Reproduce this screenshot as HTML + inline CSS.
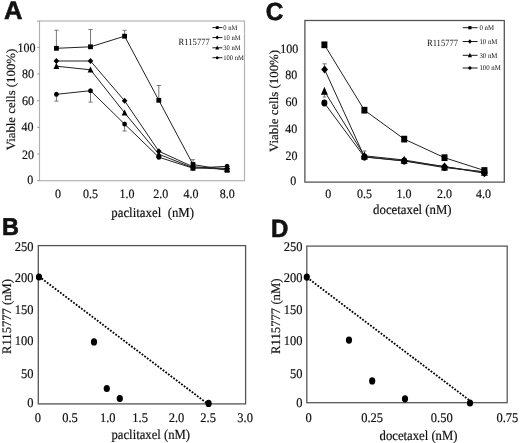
<!DOCTYPE html>
<html><head><meta charset="utf-8"><title>Figure</title><style>
html,body{margin:0;padding:0;background:#fff;}
svg{display:block;filter:grayscale(1);}
text{fill:#111;text-rendering:geometricPrecision;}
.sf{font-family:"Liberation Serif",serif;}
.sb{font-family:"Liberation Sans",sans-serif;font-weight:bold;}
</style></head><body>
<svg width="520" height="443" viewBox="0 0 520 443">
<rect width="520" height="443" fill="#fff"/>
<text class="sb" transform="translate(3.90,19.40)" font-size="25.5" stroke="#111" stroke-width="0.6">A</text>
<rect x="39.5" y="21" width="205" height="159.7" fill="none" stroke="#b0b0b0" stroke-width="1.15"/>
<line x1="37.2" y1="21.0" x2="39.5" y2="21.0" stroke="#999" stroke-width="1" />
<line x1="37.2" y1="47.4" x2="39.5" y2="47.4" stroke="#999" stroke-width="1" />
<line x1="37.2" y1="74.0" x2="39.5" y2="74.0" stroke="#999" stroke-width="1" />
<line x1="37.2" y1="100.8" x2="39.5" y2="100.8" stroke="#999" stroke-width="1" />
<line x1="37.2" y1="127.3" x2="39.5" y2="127.3" stroke="#999" stroke-width="1" />
<line x1="37.2" y1="154.0" x2="39.5" y2="154.0" stroke="#999" stroke-width="1" />
<line x1="37.2" y1="180.6" x2="39.5" y2="180.6" stroke="#999" stroke-width="1" />
<text class="sf" transform="translate(35.60,51.50) scale(1,1.06)" font-size="12" text-anchor="end" stroke="#111" stroke-width="0.18">100</text>
<text class="sf" transform="translate(34.00,77.70) scale(1,1.06)" font-size="12" text-anchor="end" stroke="#111" stroke-width="0.18">80</text>
<text class="sf" transform="translate(34.00,104.70) scale(1,1.06)" font-size="12" text-anchor="end" stroke="#111" stroke-width="0.18">60</text>
<text class="sf" transform="translate(33.60,131.40) scale(1,1.06)" font-size="12" text-anchor="end" stroke="#111" stroke-width="0.18">40</text>
<text class="sf" transform="translate(34.00,158.80) scale(1,1.06)" font-size="12" text-anchor="end" stroke="#111" stroke-width="0.18">20</text>
<text class="sf" transform="translate(33.20,184.10) scale(1,1.06)" font-size="12" text-anchor="end" stroke="#111" stroke-width="0.18">0</text>
<text class="sf" transform="translate(58.00,198.20) scale(1,1.06)" font-size="12" text-anchor="middle" stroke="#111" stroke-width="0.18">0</text>
<text class="sf" transform="translate(90.60,198.20) scale(1,1.06)" font-size="12" text-anchor="middle" stroke="#111" stroke-width="0.18">0.5</text>
<text class="sf" transform="translate(127.00,198.20) scale(1,1.06)" font-size="12" text-anchor="middle" stroke="#111" stroke-width="0.18">1.0</text>
<text class="sf" transform="translate(160.80,198.20) scale(1,1.06)" font-size="12" text-anchor="middle" stroke="#111" stroke-width="0.18">2.0</text>
<text class="sf" transform="translate(191.00,198.20) scale(1,1.06)" font-size="12" text-anchor="middle" stroke="#111" stroke-width="0.18">4.0</text>
<text class="sf" transform="translate(227.20,198.20) scale(1,1.06)" font-size="12" text-anchor="middle" stroke="#111" stroke-width="0.18">8.0</text>
<text class="sf" transform="translate(111.30,217.40) scale(1,1.06)" font-size="12.85" stroke="#111" stroke-width="0.18">paclitaxel&#160; (nM)</text>
<text class="sf" transform="translate(15.00,150.30) rotate(-90) scale(1,0.96)" font-size="13" textLength="101.5" lengthAdjust="spacingAndGlyphs" stroke="#111" stroke-width="0.18">Viable cells (100%)</text>
<text class="sf" transform="translate(178.60,44.60) scale(1,1.12)" font-size="8.6">R115777</text>
<line x1="212.4" y1="27.6" x2="222.4" y2="27.6" stroke="#000" stroke-width="0.9" />
<rect x="215.80" y="26.20" width="2.80" height="2.80" fill="#000"/>
<text class="sf" transform="translate(223.20,29.80) scale(1,1.06)" font-size="6.6">0 nM</text>
<line x1="212.4" y1="37.6" x2="222.4" y2="37.6" stroke="#000" stroke-width="0.9" />
<polygon points="217.20,35.60 219.00,37.60 217.20,39.60 215.40,37.60" fill="#000"/>
<text class="sf" transform="translate(223.20,39.80) scale(1,1.06)" font-size="6.6">10 nM</text>
<line x1="212.4" y1="47.8" x2="222.4" y2="47.8" stroke="#000" stroke-width="0.9" />
<polygon points="217.20,45.40 219.10,49.50 215.30,49.50" fill="#000"/>
<text class="sf" transform="translate(223.20,50.00) scale(1,1.06)" font-size="6.6">30 nM</text>
<line x1="212.4" y1="57.7" x2="222.4" y2="57.7" stroke="#000" stroke-width="0.9" />
<ellipse cx="217.20" cy="57.70" rx="1.40" ry="1.50" fill="#000"/>
<text class="sf" transform="translate(223.20,59.90) scale(1,1.06)" font-size="6.6">100 nM</text>
<line x1="56.4" y1="48.3" x2="56.4" y2="30.2" stroke="#777" stroke-width="1" />
<line x1="54.3" y1="30.2" x2="58.5" y2="30.2" stroke="#777" stroke-width="1" />
<line x1="90.5" y1="46.8" x2="90.5" y2="29.5" stroke="#777" stroke-width="1" />
<line x1="88.4" y1="29.5" x2="92.6" y2="29.5" stroke="#777" stroke-width="1" />
<line x1="124.6" y1="36.2" x2="124.6" y2="30.3" stroke="#777" stroke-width="1" />
<line x1="122.5" y1="30.3" x2="126.69999999999999" y2="30.3" stroke="#777" stroke-width="1" />
<line x1="158.8" y1="100.3" x2="158.8" y2="85.5" stroke="#777" stroke-width="1" />
<line x1="156.70000000000002" y1="85.5" x2="160.9" y2="85.5" stroke="#777" stroke-width="1" />
<line x1="193" y1="164.5" x2="193" y2="159.7" stroke="#777" stroke-width="1" />
<line x1="190.9" y1="159.7" x2="195.1" y2="159.7" stroke="#777" stroke-width="1" />
<line x1="56.4" y1="94.3" x2="56.4" y2="101.1" stroke="#777" stroke-width="1" />
<line x1="54.3" y1="101.1" x2="58.5" y2="101.1" stroke="#777" stroke-width="1" />
<line x1="90.5" y1="90.7" x2="90.5" y2="102.1" stroke="#777" stroke-width="1" />
<line x1="88.4" y1="102.1" x2="92.6" y2="102.1" stroke="#777" stroke-width="1" />
<line x1="124.6" y1="124.1" x2="124.6" y2="131.0" stroke="#777" stroke-width="1" />
<line x1="122.5" y1="131.0" x2="126.69999999999999" y2="131.0" stroke="#777" stroke-width="1" />
<polyline points="56.4,48.3 90.5,46.8 124.6,36.2 158.8,100.3 193,164.5 227.1,170.3" fill="none" stroke="#222" stroke-width="1"/>
<polyline points="56.4,61 90.5,61 124.6,100.8 158.8,151.2 193,166.8 227.1,168.5" fill="none" stroke="#222" stroke-width="1"/>
<polyline points="56.4,66.2 90.5,69.8 124.6,112.8 158.8,154.2 193,167.8 227.1,169.2" fill="none" stroke="#222" stroke-width="1"/>
<polyline points="56.4,94.3 90.5,90.7 124.6,124.1 158.8,157.2 193,168.2 227.1,166.3" fill="none" stroke="#222" stroke-width="1"/>
<rect x="54.00" y="45.90" width="4.80" height="4.80" fill="#000"/>
<rect x="88.10" y="44.40" width="4.80" height="4.80" fill="#000"/>
<rect x="122.20" y="33.80" width="4.80" height="4.80" fill="#000"/>
<rect x="156.40" y="97.90" width="4.80" height="4.80" fill="#000"/>
<rect x="190.60" y="162.10" width="4.80" height="4.80" fill="#000"/>
<rect x="224.70" y="167.90" width="4.80" height="4.80" fill="#000"/>
<polygon points="56.40,58.00 59.20,61.00 56.40,64.00 53.60,61.00" fill="#000"/>
<polygon points="90.50,58.00 93.30,61.00 90.50,64.00 87.70,61.00" fill="#000"/>
<polygon points="124.60,97.80 127.40,100.80 124.60,103.80 121.80,100.80" fill="#000"/>
<polygon points="158.80,148.20 161.60,151.20 158.80,154.20 156.00,151.20" fill="#000"/>
<polygon points="193.00,163.80 195.80,166.80 193.00,169.80 190.20,166.80" fill="#000"/>
<polygon points="227.10,165.50 229.90,168.50 227.10,171.50 224.30,168.50" fill="#000"/>
<polygon points="56.40,62.80 59.30,68.90 53.50,68.90" fill="#000"/>
<polygon points="90.50,66.40 93.40,72.50 87.60,72.50" fill="#000"/>
<polygon points="124.60,109.40 127.50,115.50 121.70,115.50" fill="#000"/>
<polygon points="158.80,150.80 161.70,156.90 155.90,156.90" fill="#000"/>
<polygon points="193.00,164.40 195.90,170.50 190.10,170.50" fill="#000"/>
<polygon points="227.10,165.80 230.00,171.90 224.20,171.90" fill="#000"/>
<ellipse cx="56.40" cy="94.30" rx="2.40" ry="2.50" fill="#000"/>
<ellipse cx="90.50" cy="90.70" rx="2.40" ry="2.50" fill="#000"/>
<ellipse cx="124.60" cy="124.10" rx="2.40" ry="2.50" fill="#000"/>
<ellipse cx="158.80" cy="157.20" rx="2.40" ry="2.50" fill="#000"/>
<ellipse cx="193.00" cy="168.20" rx="2.40" ry="2.50" fill="#000"/>
<ellipse cx="227.10" cy="166.30" rx="2.40" ry="2.50" fill="#000"/>
<text class="sb" transform="translate(265.70,19.50) scale(1,1.02)" font-size="24.3" stroke="#111" stroke-width="0.6">C</text>
<rect x="304.9" y="20.5" width="199.4" height="161.6" fill="none" stroke="#555" stroke-width="1.3"/>
<text class="sf" transform="translate(298.20,53.10) scale(1,1.06)" font-size="12" text-anchor="end" stroke="#111" stroke-width="0.18">100</text>
<text class="sf" transform="translate(297.30,78.90) scale(1,1.06)" font-size="12" text-anchor="end" stroke="#111" stroke-width="0.18">80</text>
<text class="sf" transform="translate(297.40,105.70) scale(1,1.06)" font-size="12" text-anchor="end" stroke="#111" stroke-width="0.18">60</text>
<text class="sf" transform="translate(297.30,133.40) scale(1,1.06)" font-size="12" text-anchor="end" stroke="#111" stroke-width="0.18">40</text>
<text class="sf" transform="translate(297.60,159.90) scale(1,1.06)" font-size="12" text-anchor="end" stroke="#111" stroke-width="0.18">20</text>
<text class="sf" transform="translate(296.20,185.10) scale(1,1.06)" font-size="12" text-anchor="end" stroke="#111" stroke-width="0.18">0</text>
<text class="sf" transform="translate(328.20,198.20) scale(1,1.06)" font-size="12" text-anchor="middle" stroke="#111" stroke-width="0.18">0</text>
<text class="sf" transform="translate(364.60,198.20) scale(1,1.06)" font-size="12" text-anchor="middle" stroke="#111" stroke-width="0.18">0.5</text>
<text class="sf" transform="translate(404.00,198.20) scale(1,1.06)" font-size="12" text-anchor="middle" stroke="#111" stroke-width="0.18">1.0</text>
<text class="sf" transform="translate(444.60,198.20) scale(1,1.06)" font-size="12" text-anchor="middle" stroke="#111" stroke-width="0.18">2.0</text>
<text class="sf" transform="translate(483.60,198.20) scale(1,1.06)" font-size="12" text-anchor="middle" stroke="#111" stroke-width="0.18">4.0</text>
<text class="sf" transform="translate(373.10,214.30) scale(1,1.06)" font-size="12.8" stroke="#111" stroke-width="0.18">docetaxel (nM)</text>
<text class="sf" transform="translate(278.00,152.10) rotate(-90) scale(1,0.96)" font-size="13" textLength="102.2" lengthAdjust="spacingAndGlyphs" stroke="#111" stroke-width="0.18">Viable cells (100%)</text>
<text class="sf" transform="translate(426.90,45.70) scale(1,1.12)" font-size="8.6">R115777</text>
<line x1="462.7" y1="27.7" x2="477.6" y2="27.7" stroke="#000" stroke-width="0.9" />
<rect x="468.30" y="26.10" width="3.20" height="3.20" fill="#000"/>
<text class="sf" transform="translate(479.40,30.00) scale(1,1.06)" font-size="6.8">0 nM</text>
<line x1="462.7" y1="41.5" x2="477.6" y2="41.5" stroke="#000" stroke-width="0.9" />
<polygon points="469.90,39.30 471.90,41.50 469.90,43.70 467.90,41.50" fill="#000"/>
<text class="sf" transform="translate(479.40,43.80) scale(1,1.06)" font-size="6.8">10 nM</text>
<line x1="462.7" y1="55.3" x2="477.6" y2="55.3" stroke="#000" stroke-width="0.9" />
<polygon points="469.90,52.70 472.00,57.20 467.80,57.20" fill="#000"/>
<text class="sf" transform="translate(479.40,57.60) scale(1,1.06)" font-size="6.8">30 nM</text>
<line x1="462.7" y1="68.0" x2="477.6" y2="68.0" stroke="#000" stroke-width="0.9" />
<ellipse cx="469.90" cy="68.00" rx="1.60" ry="1.70" fill="#000"/>
<text class="sf" transform="translate(479.40,70.30) scale(1,1.06)" font-size="6.8">100 nM</text>
<line x1="324.6" y1="69.5" x2="324.6" y2="63.8" stroke="#777" stroke-width="1" />
<line x1="322.45000000000005" y1="63.8" x2="326.75" y2="63.8" stroke="#777" stroke-width="1" />
<line x1="324.4" y1="91.2" x2="324.4" y2="97.0" stroke="#777" stroke-width="1" />
<line x1="322.59999999999997" y1="97.0" x2="326.2" y2="97.0" stroke="#777" stroke-width="1" />
<line x1="364.4" y1="156" x2="364.4" y2="151.0" stroke="#777" stroke-width="1" />
<line x1="362.4" y1="151.0" x2="366.4" y2="151.0" stroke="#777" stroke-width="1" />
<polyline points="324.4,44.8 364.4,110.2 404.2,139.1 444.5,157.7 484.4,170.5" fill="none" stroke="#222" stroke-width="1"/>
<polyline points="324.6,69.5 364.4,156.8 404.2,160.8 444.5,166.5 484.4,173.2" fill="none" stroke="#222" stroke-width="1"/>
<polyline points="324.4,91.2 364.4,155.8 404.2,160.0 444.5,166.8 484.4,172.2" fill="none" stroke="#222" stroke-width="1"/>
<polyline points="324.4,103.0 364.4,157.0 404.2,161.0 444.5,167.6 484.4,171.8" fill="none" stroke="#222" stroke-width="1"/>
<rect x="321.40" y="41.44" width="6.00" height="6.72" fill="#000"/>
<rect x="361.40" y="106.84" width="6.00" height="6.72" fill="#000"/>
<rect x="401.20" y="135.74" width="6.00" height="6.72" fill="#000"/>
<rect x="441.50" y="154.34" width="6.00" height="6.72" fill="#000"/>
<rect x="481.40" y="167.14" width="6.00" height="6.72" fill="#000"/>
<polygon points="324.60,65.54 328.00,69.50 324.60,73.46 321.20,69.50" fill="#000"/>
<polygon points="364.40,152.84 367.80,156.80 364.40,160.76 361.00,156.80" fill="#000"/>
<polygon points="404.20,156.84 407.60,160.80 404.20,164.76 400.80,160.80" fill="#000"/>
<polygon points="444.50,162.54 447.90,166.50 444.50,170.46 441.10,166.50" fill="#000"/>
<polygon points="484.40,169.24 487.80,173.20 484.40,177.16 481.00,173.20" fill="#000"/>
<polygon points="324.40,86.84 327.90,94.86 320.90,94.86" fill="#000"/>
<polygon points="364.40,151.44 367.90,159.46 360.90,159.46" fill="#000"/>
<polygon points="404.20,155.64 407.70,163.66 400.70,163.66" fill="#000"/>
<polygon points="444.50,162.44 448.00,170.46 441.00,170.46" fill="#000"/>
<polygon points="484.40,167.84 487.90,175.86 480.90,175.86" fill="#000"/>
<ellipse cx="324.40" cy="103.00" rx="3.00" ry="3.46" fill="#000"/>
<ellipse cx="364.40" cy="157.00" rx="3.00" ry="3.46" fill="#000"/>
<ellipse cx="404.20" cy="161.00" rx="3.00" ry="3.46" fill="#000"/>
<ellipse cx="444.50" cy="167.60" rx="3.00" ry="3.46" fill="#000"/>
<ellipse cx="484.40" cy="171.80" rx="3.00" ry="3.46" fill="#000"/>
<text class="sb" transform="translate(2.00,235.00) scale(1,1.03)" font-size="23.5" stroke="#111" stroke-width="0.6">B</text>
<rect x="38.3" y="245.6" width="207.3" height="158.3" fill="none" stroke="#555" stroke-width="1.3"/>
<text class="sf" transform="translate(33.40,251.10) scale(1,1.06)" font-size="12.5" text-anchor="end" stroke="#111" stroke-width="0.18">250</text>
<text class="sf" transform="translate(33.40,282.30) scale(1,1.06)" font-size="12.5" text-anchor="end" stroke="#111" stroke-width="0.18">200</text>
<text class="sf" transform="translate(33.40,314.10) scale(1,1.06)" font-size="12.5" text-anchor="end" stroke="#111" stroke-width="0.18">150</text>
<text class="sf" transform="translate(33.40,345.30) scale(1,1.06)" font-size="12.5" text-anchor="end" stroke="#111" stroke-width="0.18">100</text>
<text class="sf" transform="translate(33.40,377.80) scale(1,1.06)" font-size="12.5" text-anchor="end" stroke="#111" stroke-width="0.18">50</text>
<text class="sf" transform="translate(33.40,407.40) scale(1,1.06)" font-size="12.5" text-anchor="end" stroke="#111" stroke-width="0.18">0</text>
<text class="sf" transform="translate(37.80,422.20) scale(1,1.06)" font-size="12.5" text-anchor="middle" stroke="#111" stroke-width="0.18">0</text>
<text class="sf" transform="translate(70.00,422.20) scale(1,1.06)" font-size="12.5" text-anchor="middle" stroke="#111" stroke-width="0.18">0.5</text>
<text class="sf" transform="translate(107.80,422.20) scale(1,1.06)" font-size="12.5" text-anchor="middle" stroke="#111" stroke-width="0.18">1.0</text>
<text class="sf" transform="translate(140.10,422.20) scale(1,1.06)" font-size="12.5" text-anchor="middle" stroke="#111" stroke-width="0.18">1.5</text>
<text class="sf" transform="translate(176.50,422.20) scale(1,1.06)" font-size="12.5" text-anchor="middle" stroke="#111" stroke-width="0.18">2.0</text>
<text class="sf" transform="translate(208.10,422.20) scale(1,1.06)" font-size="12.5" text-anchor="middle" stroke="#111" stroke-width="0.18">2.5</text>
<text class="sf" transform="translate(245.10,422.20) scale(1,1.06)" font-size="12.5" text-anchor="middle" stroke="#111" stroke-width="0.18">3.0</text>
<text class="sf" transform="translate(111.50,439.10) scale(1,1.09)" font-size="12.7" stroke="#111" stroke-width="0.18">paclitaxel (nM)</text>
<text class="sf" transform="translate(11.40,353.90) rotate(-90)" font-size="13" textLength="74.9" lengthAdjust="spacingAndGlyphs" stroke="#111" stroke-width="0.18">R115777 (nM)</text>
<line x1="39" y1="276.5" x2="207.5" y2="403.7" stroke="#000" stroke-width="1.8" stroke-dasharray="1.8 1.5"/>
<ellipse cx="39" cy="277" rx="3.1" ry="3.6" fill="#000"/>
<ellipse cx="94" cy="341.9" rx="3.1" ry="3.6" fill="#000"/>
<ellipse cx="106.8" cy="388.5" rx="3.1" ry="3.6" fill="#000"/>
<ellipse cx="119.8" cy="398.5" rx="3.1" ry="3.6" fill="#000"/>
<ellipse cx="208.6" cy="403.4" rx="3.1" ry="3.6" fill="#000"/>
<text class="sb" transform="translate(270.90,237.30) scale(1,1.04)" font-size="24.0" stroke="#111" stroke-width="0.6">D</text>
<rect x="306.8" y="246.1" width="200.4" height="156.6" fill="none" stroke="#5a5a5a" stroke-width="1.3"/>
<text class="sf" transform="translate(302.50,250.70) scale(1,1.06)" font-size="12.5" text-anchor="end" stroke="#111" stroke-width="0.18">250</text>
<text class="sf" transform="translate(302.50,281.80) scale(1,1.06)" font-size="12.5" text-anchor="end" stroke="#111" stroke-width="0.18">200</text>
<text class="sf" transform="translate(302.50,313.60) scale(1,1.06)" font-size="12.5" text-anchor="end" stroke="#111" stroke-width="0.18">150</text>
<text class="sf" transform="translate(302.50,345.10) scale(1,1.06)" font-size="12.5" text-anchor="end" stroke="#111" stroke-width="0.18">100</text>
<text class="sf" transform="translate(302.50,377.50) scale(1,1.06)" font-size="12.5" text-anchor="end" stroke="#111" stroke-width="0.18">50</text>
<text class="sf" transform="translate(302.50,407.30) scale(1,1.06)" font-size="12.5" text-anchor="end" stroke="#111" stroke-width="0.18">0</text>
<text class="sf" transform="translate(308.50,421.80) scale(1,1.06)" font-size="12.5" text-anchor="middle" stroke="#111" stroke-width="0.18">0</text>
<text class="sf" transform="translate(372.10,421.80) scale(1,1.06)" font-size="12.5" text-anchor="middle" stroke="#111" stroke-width="0.18">0.25</text>
<text class="sf" transform="translate(441.70,421.80) scale(1,1.06)" font-size="12.5" text-anchor="middle" stroke="#111" stroke-width="0.18">0.50</text>
<text class="sf" transform="translate(507.40,421.80) scale(1,1.06)" font-size="12.5" text-anchor="middle" stroke="#111" stroke-width="0.18">0.75</text>
<text class="sf" transform="translate(379.60,439.50) scale(1,1.09)" font-size="12.7" stroke="#111" stroke-width="0.18">docetaxel (nM)</text>
<text class="sf" transform="translate(280.20,353.90) rotate(-90)" font-size="13" textLength="75.4" lengthAdjust="spacingAndGlyphs" stroke="#111" stroke-width="0.18">R115777 (nM)</text>
<line x1="307" y1="277.5" x2="469.5" y2="400.3" stroke="#000" stroke-width="1.8" stroke-dasharray="1.8 1.5"/>
<ellipse cx="306.8" cy="277.1" rx="3.1" ry="3.6" fill="#000"/>
<ellipse cx="349" cy="340.1" rx="3.1" ry="3.6" fill="#000"/>
<ellipse cx="372.2" cy="380.9" rx="3.1" ry="3.6" fill="#000"/>
<ellipse cx="405" cy="398.8" rx="3.1" ry="3.6" fill="#000"/>
<ellipse cx="470" cy="403" rx="3.1" ry="3.6" fill="#000"/>
</svg></body></html>
